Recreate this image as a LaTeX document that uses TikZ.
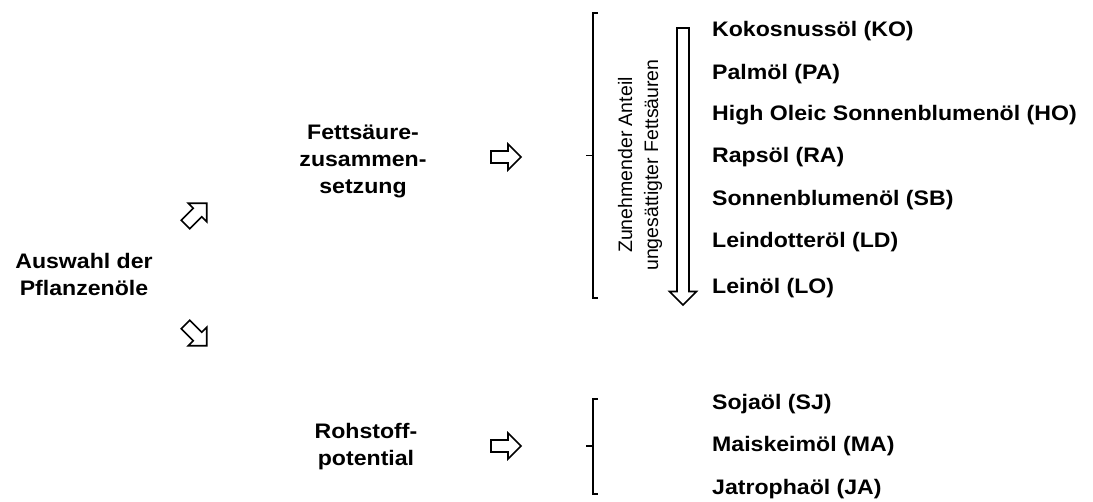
\documentclass[tikz,border=0pt]{standalone}
\usepackage{fontspec}
\setmainfont{Liberation Sans}[FakeStretch=1.1]
\newfontfamily\hochfont{Liberation Sans}
\usetikzlibrary{positioning, shapes.arrows}

\begin{document}
\begin{tikzpicture}[x=1pt, y=-1pt,
    titel/.style={font=\fontsize{21}{27}\selectfont\bfseries, align=center, inner sep=0pt},
    oel/.style={font=\fontsize{21}{27}\selectfont\bfseries, anchor=base west, inner sep=0pt},
    hohlpfeil/.style={single arrow, draw, line width=1.6pt, inner xsep=0pt, inner ysep=5.2pt,
        single arrow head extend=7pt, minimum height=30pt},
    klammer/.style={line width=1.2pt}]
    \useasboundingbox (0,0) rectangle (1093,502);

    % Auswahl
    \node[titel] (auswahl) at (84,274) {Auswahl der\\Pflanzenöle};
    \node[hohlpfeil, rotate=45] (pfeiloben) at (194,216) {};
    \node[hohlpfeil, rotate=-45] (pfeilunten) at (194,333) {};

    % Fettsaeurezusammensetzung
    \node[titel] (fett) at (363,161) {Fettsäure-\\zusammen-\\setzung};
    \node[hohlpfeil] (pfeilfett) at (503,157) {};
    \draw[klammer] (598,13) -- (593,13) -- (593,298) -- (598,298);
    \draw[klammer] (593,155.5) -- (586,155.5);
    \node[font=\fontsize{19.5}{26}\selectfont\hochfont, align=center, rotate=90, inner sep=0pt] (anteil)
        at (640,165) {Zunehmender Anteil\\ungesättigter Fettsäuren};
    \node[hohlpfeil, rotate=-90, minimum height=277pt, single arrow head extend=7.5pt] (pfeilanteil)
        at (683,163.5) {};
    \node[oel] (ko) at (712,37) {Kokosnussöl (KO)};
    \node[oel] (pa) at (712,80) {Palmöl (PA)};
    \node[oel] (ho) at (712,121) {High Oleic Sonnenblumenöl (HO)};
    \node[oel] (ra) at (712,163) {Rapsöl (RA)};
    \node[oel] (sb) at (712,206) {Sonnenblumenöl (SB)};
    \node[oel] (ld) at (712,248) {Leindotteröl (LD)};
    \node[oel] (lo) at (712,294) {Leinöl (LO)};

    % Rohstoffpotential
    \node[titel] (rohstoff) at (366,447) {Rohstoff-\\potential};
    \node[hohlpfeil] (pfeilroh) at (503,446) {};
    \draw[klammer] (598,399) -- (593,399) -- (593,494) -- (598,494);
    \draw[klammer] (593,446) -- (586,446);
    \node[oel] (sj) at (712,410) {Sojaöl (SJ)};
    \node[oel] (ma) at (712,452) {Maiskeimöl (MA)};
    \node[oel] (ja) at (712,495) {Jatrophaöl (JA)};
\end{tikzpicture}
\end{document}
